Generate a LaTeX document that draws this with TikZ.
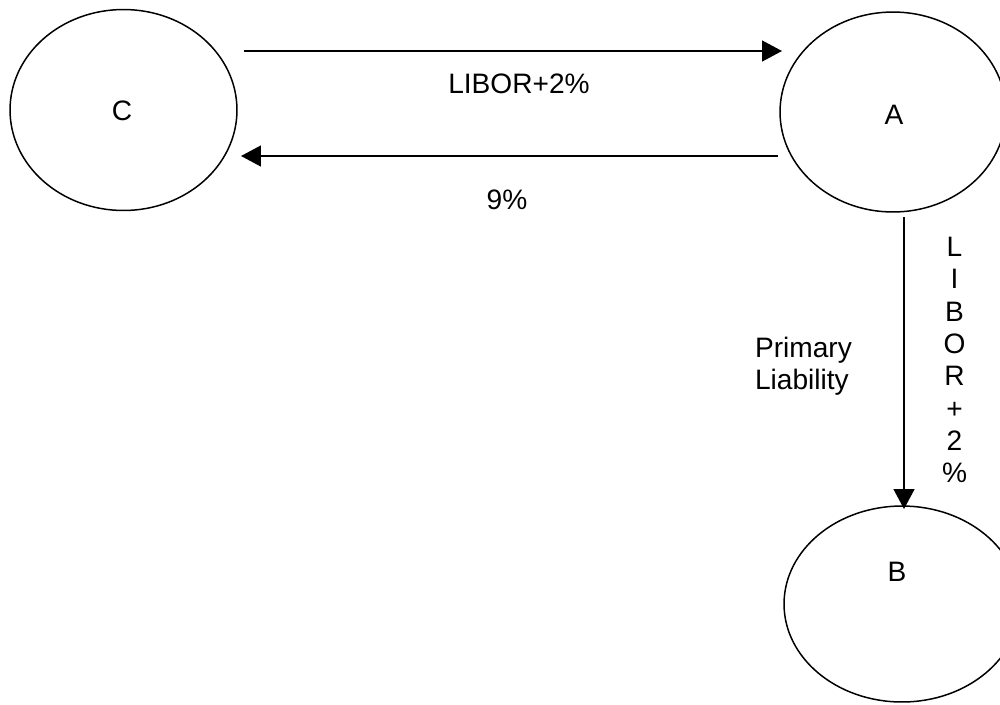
\documentclass[tikz,border=0pt]{standalone}
\usepackage{fontspec}
\setmainfont{Liberation Sans}
\usetikzlibrary{shapes.geometric,arrows.meta}

\begin{document}
\begin{tikzpicture}
  [x=0.02cm,y=-0.02cm,
  party/.style={ellipse,draw=black,line width=0.85pt,outer sep=0,inner sep=0},
  lbl/.style={inner sep=0,outer sep=0,font=\fontsize{16}{18.4}\selectfont},
  flow/.style={line width=0.85pt,-{Triangle[length=0.4cm,width=0.42cm]}}
  ]
  \useasboundingbox (0,0) rectangle (1000,704);

  \node[party,minimum width=4.54cm,minimum height=4.02cm] (partyc) at (123.5,110) {};
  \node[party,minimum width=4.52cm,minimum height=4.0cm] (partya) at (893,112) {};
  \node[party,minimum width=4.72cm,minimum height=3.92cm] (partyb) at (902,604) {};
  \node[lbl] (namec) at (122,111) {C};
  \node[lbl] (namea) at (894,115) {A};
  \node[lbl] (nameb) at (897,572) {B};

  \coordinate (c1) at (244,51);
  \coordinate (a1) at (782,51);
  \coordinate (a2) at (778,156);
  \coordinate (c2) at (241,156);
  \coordinate (a3) at (904,217);
  \coordinate (b1) at (904,509);

  \node[lbl] (rate1) at (519,84) {LIBOR+2\%};
  \node[lbl] (rate2) at (507,200) {9\%};
  \node[lbl,align=center] (rate3) at (954.5,360) {L\\I\\B\\O\\R\\+\\2\\\%};
  \node[lbl,align=left,anchor=west] (liab) at (755,366) {Primary\\Liability};

  \draw[flow] (c1) to (a1);
  \draw[flow] (a2) to (c2);
  \draw[flow] (a3) to (b1);
\end{tikzpicture}
\end{document}
